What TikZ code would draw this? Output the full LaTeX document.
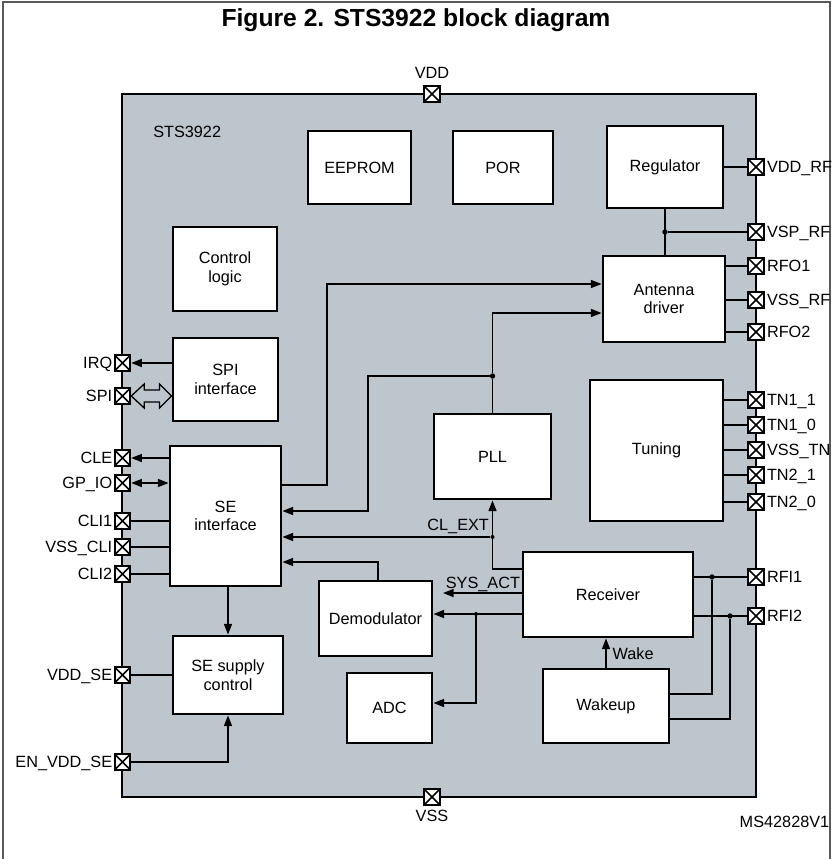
\documentclass[tikz,border=0pt]{standalone}
\usepackage{fontspec}
\setmainfont{Liberation Sans}
\usepackage{xcolor}
\usepackage{tikz}
\usetikzlibrary{arrows.meta, calc, fit}

\definecolor{chipgray}{RGB}{189,197,205}
\tikzset{
    blk/.style={draw, fill=white, line width=2.2pt, inner sep=0pt, align=center},
    sz/.style 2 args={minimum width=#1*0.75pt, minimum height=#2*0.75pt},
    pad/.style={draw, fill=white, line width=1.5pt, minimum size=11.6pt, inner sep=0pt,
        path picture={\draw[line width=1.2pt]
            (path picture bounding box.north west) -- (path picture bounding box.south east)
            (path picture bounding box.south west) -- (path picture bounding box.north east);}},
    lbl/.style={inner sep=1.5pt, text height=8.8pt, text depth=0pt},
    conn/.style={line width=1.1pt},
    arr/.style={-{Triangle[length=8pt,width=6pt]}},
    both/.style={{Triangle[length=8pt,width=6pt]}-{Triangle[length=8pt,width=6pt]}},
    dot/.style={circle, fill, inner sep=0pt, minimum size=4pt},
}

\begin{document}
\begin{tikzpicture}[x=0.75pt, y=-0.75pt, font=\fontsize{12.2}{14}\selectfont]
    \useasboundingbox (0,0) rectangle (832,859);
    % Frame and title
    \draw[black!65, line width=1pt] (3,859) -- (3,2) -- (830,2) -- (830,859);
    \node[font=\bfseries\fontsize{18.5}{20}\selectfont, anchor=base] (title) at (416,27) {Figure 2. STS3922 block diagram};

    % Chip
    \node[draw, fill=chipgray, line width=2.2pt, inner sep=0pt, fit={(122,94) (756,797)}] (chip) {};
    \node[anchor=west, inner sep=0pt] (tChip) at (153,132) {STS3922};
    \node[pad] (pVDD) at (432,94) {};
    \node[lbl] (tVDD) at (432,73) {VDD};
    \node[pad] (pVSS) at (432,797) {};
    \node[lbl] (tVSS) at (432,816) {VSS};
    \node (tMS) at (784.5,822) {MS42828V1};

    % Blocks
    \node[blk, sz={103}{73}] (eeprom) at (359.5,167.5) {EEPROM};
    \node[blk, sz={100}{73}] (por) at (503,167.5) {POR};
    \node[blk, sz={116}{82}] (reg) at (665,167) {Regulator};
    \node[blk, sz={122}{86}] (ant) at (664,299) {Antenna\\driver};
    \node[blk, sz={104}{84}] (ctrl) at (225,269) {Control\\logic};
    \node[blk, sz={105}{83}] (spi) at (225.5,379.5) {SPI\\interface};
    \node[blk, sz={111}{140}] (se) at (225.5,516) {SE\\interface};
    \node[blk, sz={117}{85}] (pll) at (492.5,456.5) {PLL};
    \node[blk, sz={133}{141}] (tun) at (656.5,450.5) {Tuning};
    \node[blk, sz={170}{85}] (rx) at (608,594.5) {Receiver};
    \node[blk, sz={113}{75}] (demod) at (375.5,618.5) {Demodulator};
    \node[blk, sz={85}{70}] (adc) at (389.5,708) {ADC};
    \node[blk, sz={126}{74}] (wake) at (606,706) {Wakeup};
    \node[blk, sz={110}{78}] (sesup) at (228,675) {SE supply\\control};

    % Pins, left side
    \foreach \n/\y/\t in {IRQ/363/IRQ, SPI/396/SPI, CLE/458/CLE, GPIO/483/GP\_IO, CLI1/521/CLI1,
        VSSCLI/547/VSS\_CLI, CLI2/574/CLI2, VDDSE/675/VDD\_SE, ENVDDSE/762/EN\_VDD\_SE} {
        \node[pad] (p\n) at (122.5,\y) {};
        \node[lbl, anchor=east, inner sep=1pt] (t\n) at (p\n.west) {\t};
    }
    % Pins, right side
    \foreach \n/\y/\t in {VDDRF/167/VDD\_RF, VSPRF/232/VSP\_RF, RFO1/266/RFO1, VSSRF/300/VSS\_RF,
        RFO2/332/RFO2, TN11/400/TN1\_1, TN10/425/TN1\_0, VSSTN/450/VSS\_TN, TN21/475/TN2\_1,
        TN20/502/TN2\_0, RFI1/577/RFI1, RFI2/616/RFI2} {
        \node[pad] (p\n) at (756,\y) {};
        \node[lbl, anchor=west] (t\n) at (p\n.east) {\t};
    }

    % SPI interface
    \draw[conn, arr] (spi.west |- pIRQ) -- (pIRQ);
    \draw[line width=1pt] (pSPI.east) -- ++(13,-12) -- ++(0,6) -- ($(spi.west |- pSPI)+(-12,-6)$)
        -- ++(0,-6) -- (spi.west |- pSPI) -- ++(-12,12) -- ++(0,-6)
        -- ($(pSPI.east)+(13,6)$) -- ++(0,6) -- cycle;

    % SE interface
    \draw[conn, arr] (se.west |- pCLE) -- (pCLE);
    \draw[conn, both] (pGPIO) -- (se.west |- pGPIO);
    \foreach \n in {CLI1, VSSCLI, CLI2}
        \draw[conn] (p\n) -- (se.west |- p\n);
    \draw[conn, arr] (se.south -| sesup.north) -- (sesup.north);
    \draw[conn] (pVDDSE) -- (sesup.west |- pVDDSE);
    \draw[conn, arr] (pENVDDSE) -| (sesup.south);

    % Regulator and antenna driver
    \draw[conn] (reg.east |- pVDDRF) -- (pVDDRF);
    \draw[conn] (reg.south) -- (reg.south |- ant.north);
    \node[dot] (jVSP) at (reg.south |- pVSPRF) {};
    \draw[conn] (jVSP) -- (pVSPRF);
    \foreach \n in {RFO1, VSSRF, RFO2}
        \draw[conn] (ant.east |- p\n) -- (p\n);
    \foreach \n in {TN11, TN10, VSSTN, TN21, TN20}
        \draw[conn] (tun.east |- p\n) -- (p\n);

    % Receiver and wakeup
    \draw[conn] (rx.east |- pRFI1) -- (pRFI1);
    \draw[conn] (rx.east |- pRFI2) -- (pRFI2);
    \node[dot] (jRFI1) at (pRFI1 -| 712,0) {};
    \node[dot] (jRFI2) at (pRFI2 -| 730,0) {};
    \draw[conn] (wake.east |- 0,694) -| (jRFI1);
    \draw[conn] (wake.east |- 0,719) -| (jRFI2);
    \draw[conn, arr] (wake.north) -- (rx.south -| wake.north);
    \node[lbl, anchor=west, inner sep=1pt] (tWake) at (611,654) {Wake};

    % Clock paths
    \draw[conn, arr] (se.east |- 0,485) -| (327,284) -- (ant.west |- 0,284);
    \node[dot] (jPLL) at (pll.north |- 0,376) {};
    \draw[conn] (pll.north) -- (jPLL);
    \draw[conn, arr] (jPLL) |- (ant.west |- 0,313);
    \draw[conn, arr] (jPLL) -| (368,511) -- (se.east |- 0,511);
    \node[dot, minimum size=3pt] (jCL) at (pll.south |- 0,537) {};
    \draw[conn, arr] (rx.west |- 0,569) -| (pll.south);
    \draw[conn, arr] (jCL) -- (se.east |- jCL);
    \node[lbl, anchor=south east, inner sep=1pt] (tCL) at ($(jCL)+(-2,-5)$) {CL\_EXT};

    % Receiver outputs
    \coordinate (sysact) at (443,593);
    \draw[conn, arr] (rx.west |- sysact) -- (sysact);
    \node[lbl, anchor=south east, inner sep=1pt] (tSYS) at (rx.west |- 0,590) {SYS\_ACT};
    \draw[conn, arr] (rx.west |- 0,614) -- (demod.east |- 0,614);
    \node[dot, minimum size=3pt] (jADC) at (476,614) {};
    \draw[conn, arr] (jADC) |- (adc.east |- 0,703);
    \draw[conn, arr] (demod.north -| 378,0) |- (se.east |- 0,562);
\end{tikzpicture}
\end{document}
